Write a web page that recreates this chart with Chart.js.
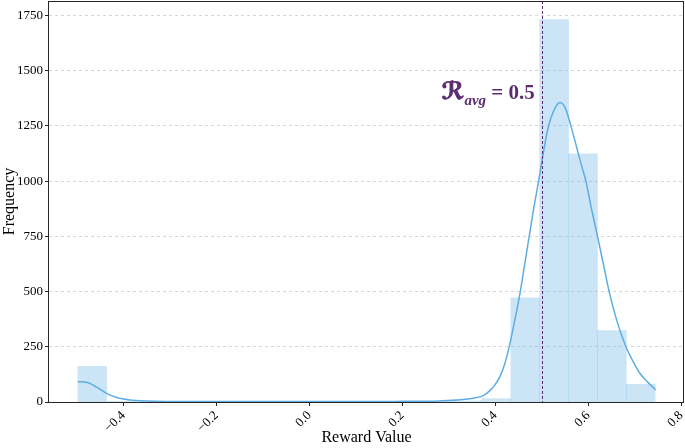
<!DOCTYPE html>
<html><head><meta charset="utf-8">
<script src="https://cdn.jsdelivr.net/npm/chart.js@4.4.0/dist/chart.umd.min.js"></script>
<style>html,body{margin:0;padding:0;background:#fff;}canvas{display:block;}</style>
</head><body>
<canvas id="c" width="685" height="448"></canvas>
<script>
// ---- data ----
const binEdges = [-0.498, -0.4359, -0.3738, -0.3117, -0.2496, -0.1875, -0.1254, -0.0633, -0.0012, 0.0609, 0.1230, 0.1851, 0.2472, 0.3093, 0.3714, 0.4335, 0.4956, 0.5577, 0.6198, 0.6819, 0.744];
const binCounts = [162, 3, 1, 1, 1, 1, 1, 1, 1, 1, 1, 2, 2, 5, 15, 472, 1732, 1124, 323, 80];
const kdeX = [-0.498, -0.479, -0.457, -0.436, -0.414, -0.386, -0.35, -0.30, -0.2, -0.1, 0.0, 0.1, 0.2, 0.28, 0.353, 0.375, 0.390, 0.400, 0.410, 0.420, 0.430, 0.441, 0.453, 0.463, 0.473, 0.483, 0.494, 0.501, 0.514, 0.526, 0.539, 0.551, 0.562, 0.573, 0.584, 0.595, 0.607, 0.620, 0.633, 0.645, 0.661, 0.681, 0.696, 0.711, 0.728, 0.745];
const kdeY = [92, 89, 67, 39, 20, 9, 4, 2.5, 2, 2, 2, 2, 3, 5, 17, 30, 55, 80, 115, 170, 250, 360, 490, 620, 750, 880, 1010, 1100, 1245, 1320, 1356, 1330, 1255, 1170, 1083, 1000, 875, 750, 620, 500, 372, 250, 185, 130, 90, 55];
const xTickValues = [-0.4, -0.2, 0.0, 0.2, 0.4, 0.6, 0.8];
const yTickValues = [0, 250, 500, 750, 1000, 1250, 1500, 1750];
const avgValue = 0.5;
const avgLabelY = 1370;
const xTitle = 'Reward Value';
const yTitle = 'Frequency';
const xLimits = [-0.560, 0.806];
const yLimits = [0, 1816];

const barData = binCounts.map((c, i) => ({x: (binEdges[i] + binEdges[i + 1]) / 2, y: c}));
const kdeData = kdeX.map((x, i) => ({x: x, y: kdeY[i]}));

const SERIF = '"Liberation Serif", "Times New Roman", serif';
const purple = '#5B2C6F';

const framePlugin = {
  id: 'frame',
  afterDatasetsDraw(chart) {
    const {ctx, chartArea: a, scales} = chart;
    const xp = Math.round(scales.x.getPixelForValue(avgValue)) + 0.5;
    ctx.save();
    ctx.strokeStyle = purple;
    ctx.lineWidth = 1;
    ctx.setLineDash([3, 2]);
    ctx.beginPath();
    ctx.moveTo(xp, a.top);
    ctx.lineTo(xp, a.bottom);
    ctx.stroke();
    ctx.restore();

    // annotation text
    const yb = scales.y.getPixelForValue(avgLabelY);
    const endX = scales.x.getPixelForValue(avgValue) - 7;
    const parts = [
      {t: 'ℛ', f: 'bold 24px "DejaVu Serif", "DejaVu Sans", serif', dy: 0},
      {t: 'avg', f: 'bold italic 15px ' + SERIF, dy: 6},
      {t: ' = 0.5', f: 'bold 21px ' + SERIF, dy: 0}
    ];
    ctx.save();
    ctx.fillStyle = purple;
    ctx.textBaseline = 'alphabetic';
    ctx.textAlign = 'left';
    let total = 0;
    parts.forEach(p => { ctx.font = p.f; p.w = ctx.measureText(p.t).width; total += p.w; });
    let x = endX - total;
    parts.forEach(p => {
      ctx.font = p.f;
      if (p.t === 'ℛ') { ctx.lineWidth = 0.8; ctx.strokeStyle = purple; ctx.strokeText(p.t, x, yb + p.dy); }
      ctx.fillText(p.t, x, yb + p.dy);
      x += p.w;
    });
    ctx.restore();

    // spines
    ctx.save();
    ctx.strokeStyle = '#262626';
    ctx.lineWidth = 1;
    ctx.strokeRect(Math.round(a.left) - 0.5, Math.round(a.top) + 0.5, Math.round(a.right - a.left), Math.round(a.bottom - a.top));
    ctx.restore();
  }
};

new Chart(document.getElementById('c'), {
  type: 'bar',
  data: {
    datasets: [
      {
        type: 'line',
        data: kdeData,
        borderColor: '#5DADE2',
        borderWidth: 1.5,
        pointRadius: 0,
        fill: false,
        cubicInterpolationMode: 'monotone',
        order: 1
      },
      {
        type: 'bar',
        data: barData,
        backgroundColor: 'rgba(93,173,226,0.32)',
        borderWidth: 0,
        barPercentage: 1.0,
        categoryPercentage: 1.0,
        order: 2
      }
    ]
  },
  options: {
    responsive: false,
    animation: false,
    devicePixelRatio: 1,
    layout: {padding: {top: 1, right: 1, left: 0, bottom: 0}},
    plugins: {legend: {display: false}, tooltip: {enabled: false}},
    scales: {
      x: {
        type: 'linear',
        offset: false,
        bounds: 'data',
        min: xLimits[0],
        max: xLimits[1],
        afterBuildTicks: s => { s.ticks = xTickValues.map(v => ({value: v})); },
        afterFit: s => { s.height = 46; s.paddingLeft = 0; s.paddingRight = 0; },
        grid: {display: true, offset: false, drawOnChartArea: false, drawTicks: true, tickLength: 4, tickColor: '#262626', tickWidth: 1},
        border: {display: false},
        ticks: {
          minRotation: 45, maxRotation: 45, padding: 2, color: '#000',
          font: {family: SERIF, size: 13},
          callback: v => (v < 0 ? '\u2212' : '') + Math.abs(v).toFixed(1)
        },
        title: {display: true, text: xTitle, color: '#000', font: {family: SERIF, size: 16}, padding: {top: 0, bottom: 1}}
      },
      y: {
        bounds: 'data',
        min: yLimits[0],
        max: yLimits[1],
        afterBuildTicks: s => { s.ticks = yTickValues.map(v => ({value: v})); },
        afterFit: s => { s.width = 49; s.paddingTop = 0; s.paddingBottom = 0; },
        grid: {display: true, color: '#cccccc', lineWidth: 0.8, drawTicks: true, tickLength: 4, tickColor: '#262626', tickWidth: 1},
        border: {display: false, dash: [3, 3]},
        ticks: {padding: 2, color: '#000', font: {family: SERIF, size: 13}, callback: v => String(v)},
        title: {display: true, text: yTitle, color: '#000', font: {family: SERIF, size: 16}, padding: {top: 0, bottom: 0}}
      }
    }
  },
  plugins: [framePlugin]
});
</script>
</body></html>
